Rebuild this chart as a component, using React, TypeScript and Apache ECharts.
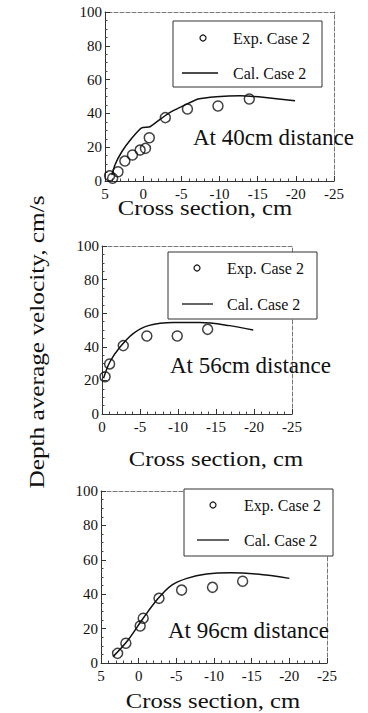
import React, { useEffect, useRef } from "react";
import * as echarts from "echarts";

// Panel 1: At 40cm distance
const x1Exp = [4.4, 4.0, 3.3, 2.4, 1.4, 0.4, -0.3, -0.8, -2.9, -5.8, -9.8, -13.9];
const y1Exp = [3.1, 1.6, 5.5, 11.8, 15.4, 18.3, 19.3, 25.6, 37.5, 42.6, 44.4, 48.5];
const x1Cal = [4.1, 3.7, 2.8, 1.5, 0.2, -0.9, -2.4, -3.7, -5.3, -7.2, -9.6, -12.7, -15.7, -19.9];
const y1Cal = [3.5, 9.5, 17.3, 25.3, 31.5, 32.1, 37.1, 41.0, 44.6, 48.5, 49.9, 50.5, 49.5, 47.5];

// Panel 2: At 56cm distance
const x2Exp = [-0.4, -1.0, -2.8, -5.9, -9.9, -13.9];
const y2Exp = [22.2, 29.8, 40.7, 46.4, 46.4, 50.4];
const x2Cal = [-0.2, -1.05, -2.4, -4.1, -6.1, -9.4, -12.9, -16.8, -19.9];
const y2Cal = [21.3, 31.1, 40.0, 47.9, 52.6, 54.4, 54.4, 52.6, 50.0];

// Panel 3: At 96cm distance
const x3Exp = [2.8, 1.7, -0.2, -0.6, -2.7, -5.7, -9.8, -13.8];
const y3Exp = [5.6, 11.5, 21.5, 26.0, 37.6, 42.4, 44.0, 47.5];
const x3Cal = [3.4, 1.4, -0.6, -2.6, -4.4, -6.4, -9.0, -12.1, -15.7, -20.0];
const y3Cal = [3.7, 13.4, 26.0, 37.6, 45.3, 49.2, 51.7, 52.5, 51.7, 49.2];

const xMaxs = [5, 0, 5];
const xMin = -25;
const panelTitles = ["At 40cm distance", "At 56cm distance", "At 96cm distance"];
const expName = "Exp. Case 2";
const calName = "Cal. Case 2";
const xName = "Cross section, cm";
const yName = "Depth average velocity, cm/s";

const FONT = "Liberation Serif";
const INK = "#111";

const zip = (xs: number[], ys: number[]) => xs.map((x, i) => [x, ys[i]]);

export default function App() {
  const ref = useRef<HTMLDivElement>(null);

  useEffect(() => {
    if (!ref.current) return;
    const chart = echarts.init(ref.current, undefined, { renderer: "svg" });

    const grids = [
      { left: 105, top: 12, width: 229, height: 169 },
      { left: 102, top: 246, width: 190, height: 168 },
      { left: 101, top: 491, width: 226, height: 172 },
    ];

    const bottomX = grids.map((_, i) => ({
      type: "value",
      gridIndex: i,
      min: xMin,
      max: xMaxs[i],
      interval: 5,
      inverse: true,
      position: "bottom",
      axisLine: { show: true, onZero: false, lineStyle: { color: "#333", width: 1 } },
      axisTick: { show: true, inside: true, length: 5, lineStyle: { color: "#333" } },
      minorTick: { show: true, splitNumber: 5, length: 2.5, lineStyle: { color: "#444" } },
      axisLabel: { fontFamily: FONT, fontSize: 15, color: INK, margin: 5 },
      splitLine: { show: false },
    }));
    const topX = grids.map((_, i) => ({
      type: "value",
      gridIndex: i,
      min: xMin,
      max: xMaxs[i],
      interval: 5,
      inverse: true,
      position: "top",
      axisLine: { show: true, onZero: false, lineStyle: { color: "#777", width: 1, type: [4, 2] } },
      axisTick: { show: false },
      axisLabel: { show: false },
      splitLine: { show: false },
    }));
    const leftY = grids.map((_, i) => ({
      type: "value",
      gridIndex: i,
      min: 0,
      max: 100,
      interval: 20,
      position: "left",
      axisLine: { show: true, onZero: false, lineStyle: { color: "#333", width: 1 } },
      axisTick: { show: true, inside: true, length: 5, lineStyle: { color: "#333" } },
      minorTick: { show: true, splitNumber: 4, length: 2.5, lineStyle: { color: "#444" } },
      axisLabel: { fontFamily: FONT, fontSize: 15, color: INK, margin: 3 },
      splitLine: { show: false },
    }));
    const rightY = grids.map((_, i) => ({
      type: "value",
      gridIndex: i,
      min: 0,
      max: 100,
      interval: 20,
      position: "right",
      axisLine: { show: true, onZero: false, lineStyle: { color: "#777", width: 1, type: [4, 2] } },
      axisTick: { show: false },
      axisLabel: { show: false },
      splitLine: { show: false },
    }));

    const exps = [zip(x1Exp, y1Exp), zip(x2Exp, y2Exp), zip(x3Exp, y3Exp)];
    const cals = [zip(x1Cal, y1Cal), zip(x2Cal, y2Cal), zip(x3Cal, y3Cal)];

    const series: any[] = [];
    for (let i = 0; i < 3; i++) {
      series.push({
        type: "line",
        name: calName,
        xAxisIndex: i,
        yAxisIndex: i,
        data: cals[i],
        symbol: "none",
        showSymbol: false,
        smooth: i === 0 ? 0.15 : 0.35,
        lineStyle: { color: INK, width: 1.5 },
        z: 2,
      });
      series.push({
        type: "scatter",
        name: expName,
        xAxisIndex: i,
        yAxisIndex: i,
        data: exps[i],
        symbol: "circle",
        symbolSize: 10,
        itemStyle: { color: "rgba(0,0,0,0)", borderColor: INK, borderWidth: 1.5 },
        z: 3,
      });
    }

    const legends = [
      { box: [173, 21, 149, 66], circ: [203, 38], line: [182, 218, 73], tx: 233, ty: [38, 73] },
      { box: [168, 252, 149, 67], circ: [197, 268], line: [182, 213, 304], tx: 227, ty: [268, 304] },
      { box: [184, 489, 149, 67], circ: [213, 505], line: [197, 229, 540], tx: 244, ty: [505, 540] },
    ];
    const titlesPos = [
      [193, 137],
      [170, 365],
      [168, 630],
    ];
    const xNamePos = [
      [205, 207],
      [216, 458],
      [213, 700],
    ];

    const graphics: any[] = [];
    legends.forEach((lg) => {
      graphics.push({
        type: "rect",
        shape: { x: lg.box[0], y: lg.box[1], width: lg.box[2], height: lg.box[3] },
        style: { fill: "#fff", stroke: "#333", lineWidth: 1 },
        z: 10,
      });
      graphics.push({
        type: "circle",
        shape: { cx: lg.circ[0], cy: lg.circ[1], r: 3 },
        style: { fill: "none", stroke: INK, lineWidth: 1.2 },
        z: 11,
      });
      graphics.push({
        type: "line",
        shape: { x1: lg.line[0], y1: lg.line[2], x2: lg.line[1], y2: lg.line[2] },
        style: { stroke: INK, lineWidth: 1.3 },
        z: 11,
      });
      [expName, calName].forEach((t, k) => {
        graphics.push({
          type: "text",
          x: lg.tx,
          y: lg.ty[k],
          style: {
            text: t,
            fontFamily: FONT,
            fontSize: 16,
            fill: INK,
            textAlign: "left",
            textVerticalAlign: "middle",
          },
          z: 11,
        });
      });
    });
    panelTitles.forEach((t, i) => {
      graphics.push({
        type: "text",
        x: titlesPos[i][0],
        y: titlesPos[i][1],
        style: {
          text: t,
          fontFamily: FONT,
          fontSize: 23,
          fill: INK,
          textAlign: "left",
          textVerticalAlign: "middle",
        },
        z: 12,
      });
    });
    xNamePos.forEach((p) => {
      graphics.push({
        type: "text",
        x: p[0],
        y: p[1],
        scaleX: 1.12,
        style: {
          text: xName,
          fontFamily: FONT,
          fontSize: 22,
          fill: INK,
          textAlign: "center",
          textVerticalAlign: "middle",
        },
        z: 12,
      });
    });
    graphics.push({
      type: "text",
      x: 37,
      y: 342,
      rotation: Math.PI / 2,
      scaleX: 1.15,
      style: {
        text: yName,
        fontFamily: FONT,
        fontSize: 22,
        fill: INK,
        textAlign: "center",
        textVerticalAlign: "middle",
      },
      z: 12,
    });

    chart.setOption({
      animation: false,
      backgroundColor: "#fff",
      textStyle: { fontFamily: FONT },
      grid: grids,
      xAxis: [...bottomX, ...topX],
      yAxis: [...leftY, ...rightY],
      series,
      graphic: { elements: graphics },
    });

    return () => chart.dispose();
  }, []);

  return (
    <div
      ref={ref}
      style={{ position: "absolute", left: 0, top: 0, width: 368, height: 713, background: "#fff" }}
    />
  );
}
